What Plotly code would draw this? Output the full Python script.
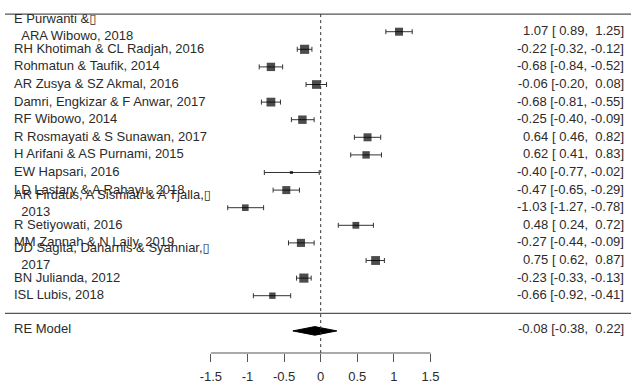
import numpy as np
import plotly.graph_objects as go

# ---- data ----
BOX = "<span style=\"font-family:'DejaVu Sans'\">\u25af</span>"
study_labels = [
    "E Purwanti &" + BOX + "<br>\u00a0\u00a0ARA Wibowo, 2018",
    "RH Khotimah & CL Radjah, 2016",
    "Rohmatun & Taufik, 2014",
    "AR Zusya & SZ Akmal, 2016",
    "Damri, Engkizar & F Anwar, 2017",
    "RF Wibowo, 2014",
    "R Rosmayati & S Sunawan, 2017",
    "H Arifani & AS Purnami, 2015",
    "EW Hapsari, 2016",
    "LD Lastary & A Rahayu, 2018",
    "AR Firdaus, A Sismiati & A Tjalla," + BOX + "<br>\u00a0\u00a02013",
    "R Setiyowati, 2016",
    "MM Zannah & N Laily, 2019",
    "DD Sagita, Daharnis & Syahniar," + BOX + "<br>\u00a0\u00a02017",
    "BN Julianda, 2012",
    "ISL Lubis, 2018",
]
estimates = [1.07, -0.22, -0.68, -0.06, -0.68, -0.25, 0.64, 0.62, -0.40, -0.47,
             -1.03, 0.48, -0.27, 0.75, -0.23, -0.66]
ci_lower = [0.89, -0.32, -0.84, -0.20, -0.81, -0.40, 0.46, 0.41, -0.77, -0.65,
            -1.27, 0.24, -0.44, 0.62, -0.33, -0.92]
ci_upper = [1.25, -0.12, -0.52, 0.08, -0.55, -0.09, 0.82, 0.83, -0.02, -0.29,
            -0.78, 0.72, -0.09, 0.87, -0.13, -0.41]
re_label = "RE Model"
re_estimate = -0.08
re_lower = -0.38
re_upper = 0.22
tick_values = [-1.5, -1, -0.5, 0, 0.5, 1, 1.5]
tick_labels = ["-1.5", "-1", "-0.5", "0", "0.5", "1", "1.5"]

# ---- derived quantities ----
est = np.array(estimates)
lb = np.array(ci_lower)
ub = np.array(ci_upper)
k = len(est)
rows = np.arange(k, 0, -1)  # top study at k, bottom at 1
re_row = -1

# random-effects weights (DerSimonian-Laird) for box sizes
vi = ((ub - lb) / (2 * 1.96)) ** 2
w0 = 1 / vi
ybar = np.sum(w0 * est) / np.sum(w0)
Q = np.sum(w0 * (est - ybar) ** 2)
C = np.sum(w0) - np.sum(w0 ** 2) / np.sum(w0)
tau2 = max(0.0, (Q - (k - 1)) / C)
w = 1 / (vi + tau2)
psize = (w - w.min()) / (w.max() - w.min()) + 0.5
box_px = psize * 6.1

def fmt(e, l, u):
    s = f"{e:.2f} [{l:5.2f}, {u:5.2f}]"
    return s.replace(" ", "\u00a0")

W, H = 631, 385
px_per_unit = 73.2
x0_px = 320.7
row_px = 17.6
row1_px = 31.7
bottom_margin = 32
x_range = [-x0_px / px_per_unit, (W - x0_px) / px_per_unit]
y_top = k + row1_px / row_px
y_bot = k - ((H - bottom_margin) - row1_px) / row_px

TEXT = "#2b2b2b"
LINE = "#555555"
FONT = "Liberation Sans, Arial, sans-serif"

fig = go.Figure()

# study boxes + CIs
fig.add_trace(go.Scatter(
    x=est, y=rows, mode="markers",
    marker=dict(symbol="square", size=box_px, color="black", line=dict(width=0)),
    error_x=dict(type="data", symmetric=False, array=ub - est, arrayminus=est - lb,
                 color="#333333", thickness=1, width=2.5),
    hoverinfo="skip", showlegend=False,
))

# RE diamond
h = 4.3 / row_px
fig.add_trace(go.Scatter(
    x=[re_lower, re_estimate, re_upper, re_estimate, re_lower],
    y=[re_row, re_row + h, re_row, re_row - h, re_row],
    mode="lines", fill="toself", fillcolor="black",
    line=dict(color="black", width=1), hoverinfo="skip", showlegend=False,
))

shapes = [
    dict(type="line", xref="paper", yref="y", x0=5 / W, x1=1, y0=k + 1, y1=k + 1,
         line=dict(color=LINE, width=1.2)),
    dict(type="line", xref="paper", yref="y", x0=5 / W, x1=1, y0=0, y1=0,
         line=dict(color=LINE, width=1.2)),
    dict(type="line", xref="x", yref="y", x0=0, x1=0, y0=k + 1, y1=y_bot,
         line=dict(color="#333333", width=1, dash="dot")),
    dict(type="line", xref="x", yref="paper", x0=tick_values[0], x1=tick_values[-1],
         y0=0, y1=0, line=dict(color=LINE, width=1.2)),
]

annotations = []
for lab, r, e, l, u in zip(study_labels, rows, est, lb, ub):
    multi = "<br>" in lab
    annotations.append(dict(
        x=12 / W, xref="paper", y=r, yref="y", text=lab, showarrow=False,
        xanchor="left", yanchor="middle", align="left",
        yshift=5 if multi else 1,
        font=dict(family=FONT, size=13, color=TEXT)))
    annotations.append(dict(
        x=626 / W, xref="paper", y=r, yref="y", text=fmt(e, l, u), showarrow=False,
        xanchor="right", yanchor="middle", align="right", yshift=1,
        font=dict(family=FONT, size=13, color=TEXT)))
annotations.append(dict(
    x=12 / W, xref="paper", y=re_row, yref="y", text=re_label, showarrow=False,
    xanchor="left", yanchor="middle", yshift=2,
    font=dict(family=FONT, size=13, color=TEXT)))
annotations.append(dict(
    x=626 / W, xref="paper", y=re_row, yref="y",
    text=fmt(re_estimate, re_lower, re_upper), showarrow=False,
    xanchor="right", yanchor="middle", yshift=2,
    font=dict(family=FONT, size=13, color=TEXT)))

fig.update_layout(
    width=W, height=H,
    margin=dict(l=0, r=0, t=0, b=bottom_margin, pad=0),
    paper_bgcolor="white", plot_bgcolor="white",
    shapes=shapes, annotations=annotations,
    xaxis=dict(range=x_range, showgrid=False, zeroline=False, showline=False,
               ticks="outside", ticklen=8, tickwidth=1.2, tickcolor=LINE,
               tickvals=tick_values, ticktext=tick_labels,
               ticklabelstandoff=3,
               tickfont=dict(family=FONT, size=13, color=TEXT),
               fixedrange=True, automargin=False),
    yaxis=dict(range=[y_bot, y_top], visible=False, fixedrange=True),
    font=dict(family=FONT),
)

fig.write_html(
    "out.html",
    config={"displayModeBar": False},
    post_script="document.body.style.margin='0';document.body.style.padding='0';",
)
